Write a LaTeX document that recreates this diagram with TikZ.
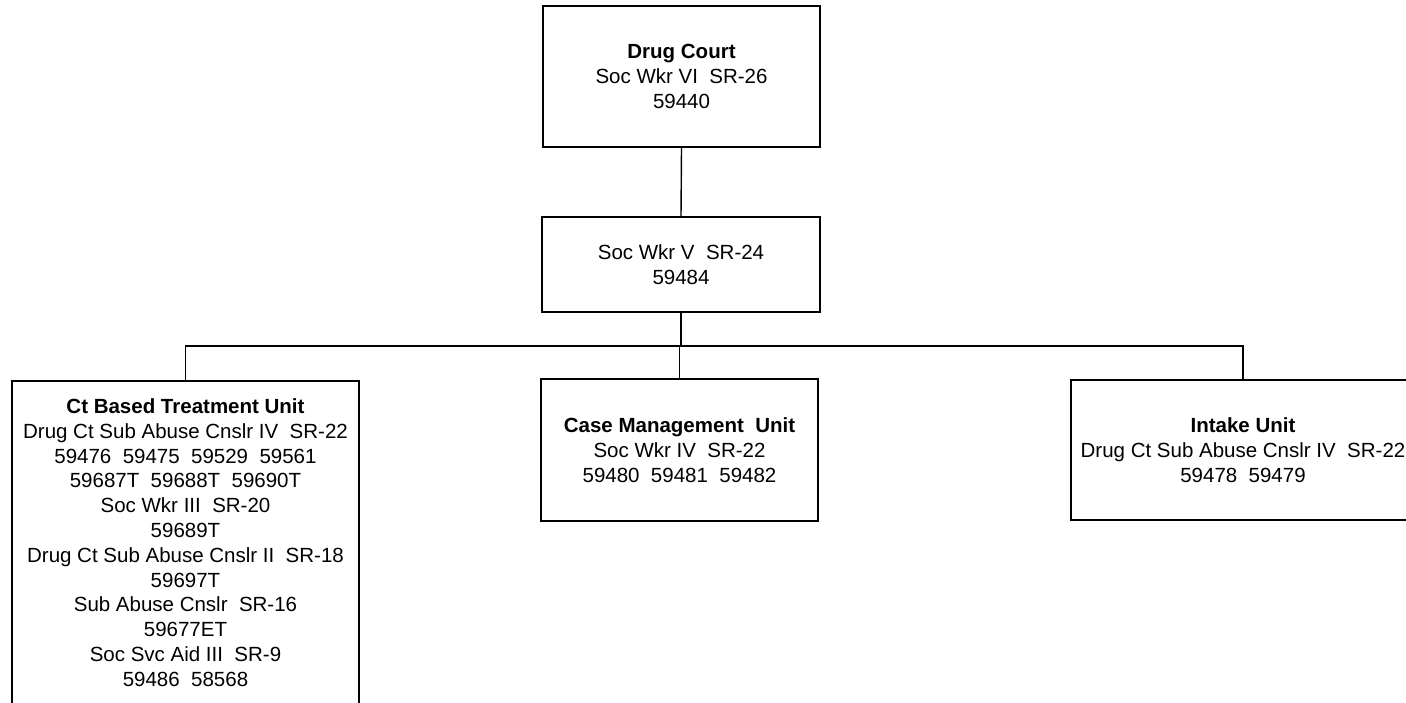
\documentclass[tikz,border=0pt]{standalone}
\usepackage{fontspec}
\setmainfont{Liberation Sans}
\begin{document}
\begin{tikzpicture}[x=1pt,y=-1pt,
  box/.style={draw=black, line width=1.6pt, inner sep=0pt, align=center,
    font=\fontsize{20.5}{24.8}\selectfont},
  conn/.style={draw=black, line width=1.4pt}]
\useasboundingbox (0,0) rectangle (1406,702);
\clip (0,0) rectangle (1406,702);
\node[box, minimum width=277pt, minimum height=141pt] (dc) at (681.5,76.5)
  {\textbf{Drug Court}\\Soc Wkr VI~~SR-26\\59440};
\node[box, minimum width=278pt, minimum height=95pt] (sw) at (681,264.5)
  {Soc Wkr V~~SR-24\\59484};
\node[box, minimum width=347pt, minimum height=323pt] (ctb) at (185.5,542.5)
  {\textbf{Ct Based Treatment Unit}\\Drug Ct Sub Abuse Cnslr IV~~SR-22\\59476~~59475~~59529~~59561\\59687T~~59688T~~59690T\\Soc Wkr III~~SR-20\\59689T\\Drug Ct Sub Abuse Cnslr II~~SR-18\\59697T\\Sub Abuse Cnslr~~SR-16\\59677ET\\Soc Svc Aid III~~SR-9\\59486~~58568};
\node[box, minimum width=277pt, minimum height=142pt] (cm) at (679.5,450)
  {\textbf{Case Management~~Unit}\\Soc Wkr IV~~SR-22\\59480~~59481~~59482};
\node[box, minimum width=344pt, minimum height=140pt] (in) at (1243,450)
  {\textbf{Intake Unit}\\Drug Ct Sub Abuse Cnslr IV~~SR-22\\59478~~59479};
\coordinate (bus) at (681,346);
\draw[conn] (dc.south) -- (sw.north);
\draw[conn] (sw.south) -- (bus);
\draw[conn] (ctb.north) -- (ctb.north |- bus) -- (in.north |- bus) -- (in.north);
\draw[conn] (cm.north) -- (cm.north |- bus);
\end{tikzpicture}
\end{document}
